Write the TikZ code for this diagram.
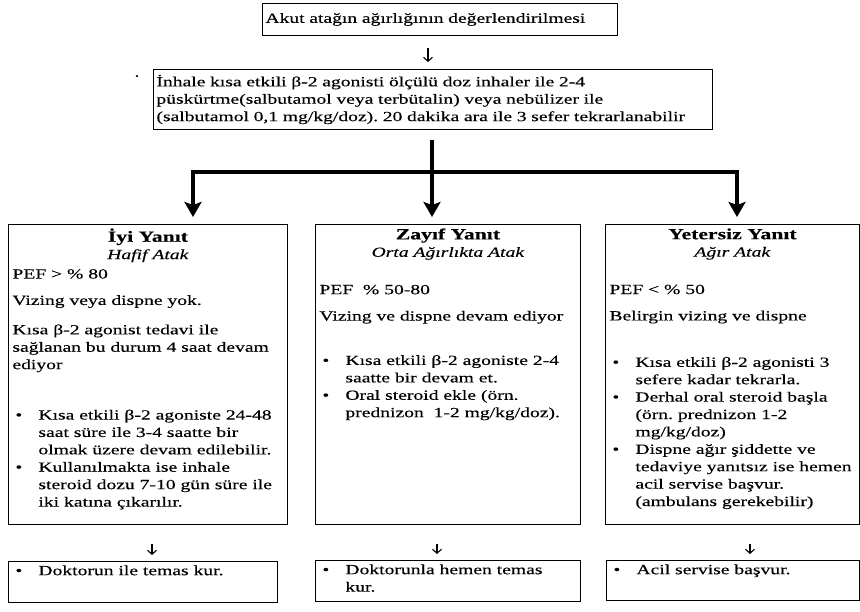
\documentclass[tikz,border=0pt]{standalone}
\usepackage{fontspec}
\setmainfont{Liberation Serif}[FakeStretch=1.4, FakeBold=0.3,
  BoldFeatures={FakeStretch=1.4}, ItalicFeatures={FakeStretch=1.4}]
\usepackage{tikz}
\usetikzlibrary{arrows.meta, positioning, calc}
\frenchspacing
\newcommand{\itm}[1]{\par\noindent\hangindent=26pt\hangafter=1\makebox[26pt][l]{\hspace{3pt}\textbullet}{\let\\\newline#1}\par}
\newcommand{\ttl}[1]{{\fontsize{15.5}{17.4}\selectfont\textbf{#1}}}

\tikzset{
  panel/.style={draw, line width=0.9pt, anchor=north west, inner sep=4pt},
  heavyarr/.style={line width=4pt, -{Stealth[length=15pt,width=17pt,inset=3pt]}},
  lightarr/.style={line width=1.1pt, -{Straight Barb[length=4pt,width=9pt]}},
}

\begin{document}
\begin{tikzpicture}[x=1pt, y=-1pt, font=\fontsize{14}{17.4}\selectfont]
            \useasboundingbox (0,0) rectangle (860,611);

            \coordinate (t1) at (428,0);
            \coordinate (split) at (432,172);
            \coordinate (lbr) at (193,172);
            \coordinate (rbr) at (737,172);
            \coordinate (b1) at (152,0);
            \coordinate (b2) at (437,0);
            \coordinate (b3) at (750,0);

            \node[panel, inner sep=3pt, minimum height=32pt, text width=349pt, align=left] (top) at (262,3) {Akut atağın ağırlığının değerlendirilmesi};

            \node[panel, inner sep=3pt, minimum height=60pt, text width=553pt, align=left] (instr) at (153,69) {İnhale kısa etkili β-2 agonisti ölçülü doz inhaler ile 2-4\\
              püskürtme(salbutamol veya terbütalin) veya nebülizer ile\\
              (salbutamol 0,1 mg/kg/doz). 20 dakika ara ile 3 sefer tekrarlanabilir};
            \node[inner sep=0pt] (speck) at (137,78) {·};

            % Yanit kutulari
            \node[panel] (good) at (8,224) {\parbox[t][292pt][t]{271pt}{\raggedright
              {\centering\ttl{İyi Yanıt}\\\textit{Hafif Atak}\par}
              \vspace{2pt}PEF > \% 80\par
              \vspace{9pt}Vizing veya dispne yok.\par
              \vspace{12pt}Kısa β-2 agonist tedavi ile\\sağlanan bu durum 4 saat devam\\ediyor\par
              \vspace{33pt}
              \itm{Kısa etkili β-2 agoniste 24-48\\saat süre ile 3-4 saatte bir\\olmak üzere devam edilebilir.}
              \itm{Kullanılmakta ise inhale\\steroid dozu 7-10 gün süre ile\\iki katına çıkarılır.}}};

            \node[panel] (weak) at (315,224) {\parbox[t][292pt][t]{257pt}{\raggedright
              {\centering\ttl{Zayıf Yanıt}\\\textit{Orta Ağırlıkta Atak}\par}
              \vspace{20pt}PEF\ \ \% 50-80\par
              \vspace{9pt}Vizing ve dispne devam ediyor\par
              \vspace{27pt}
              \itm{Kısa etkili β-2 agoniste 2-4\\saatte bir devam et.}
              \itm{Oral steroid ekle (örn.\\prednizon\ \ 1-2 mg/kg/doz).}}};

            \node[panel] (bad) at (605,224) {\parbox[t][292pt][t]{246pt}{\raggedright
              {\centering\ttl{Yetersiz Yanıt}\\\textit{Ağır Atak}\par}
              \vspace{20pt}PEF < \% 50\par
              \vspace{9pt}Belirgin vizing ve dispne\par
              \vspace{29pt}
              \itm{Kısa etkili β-2 agonisti 3\\sefere kadar tekrarla.}
              \itm{Derhal oral steroid başla\\(örn. prednizon 1-2\\mg/kg/doz)}
              \itm{Dispne ağır şiddette ve\\tedaviye yanıtsız ise hemen\\acil servise başvur.\\(ambulans gerekebilir)}}};

            % Eylem kutulari
            \node[panel] (goodact) at (8,561) {\parbox[t][33pt][t]{261pt}{\raggedright\itm{Doktorun ile temas kur.}}};
            \node[panel] (weakact) at (315,560) {\parbox[t][33pt][t]{257pt}{\raggedright\itm{Doktorunla hemen temas\\kur.}}};
            \node[panel] (badact) at (606,560) {\parbox[t][32pt][t]{245pt}{\raggedright\itm{Acil servise başvur.}}};

            \draw[lightarr, shorten <=12pt, shorten >=7pt] (top.south -| t1) -- (instr.north -| t1);

            \draw[heavyarr, shorten <=10pt, shorten >=7pt] (instr.south -| split) -- (weak.north -| split);
            \draw[heavyarr, shorten >=7pt] (split) -| (good.north -| lbr);
            \draw[heavyarr, shorten >=7pt] (split) -| (bad.north -| rbr);

            \draw[lightarr, shorten <=19pt, shorten >=6pt] (good.south -| b1) -- (goodact.north -| b1);
            \draw[lightarr, shorten <=19pt, shorten >=6pt] (weak.south -| b2) -- (weakact.north -| b2);
            \draw[lightarr, shorten <=19pt, shorten >=6pt] (bad.south -| b3) -- (badact.north -| b3);
\end{tikzpicture}
\end{document}
